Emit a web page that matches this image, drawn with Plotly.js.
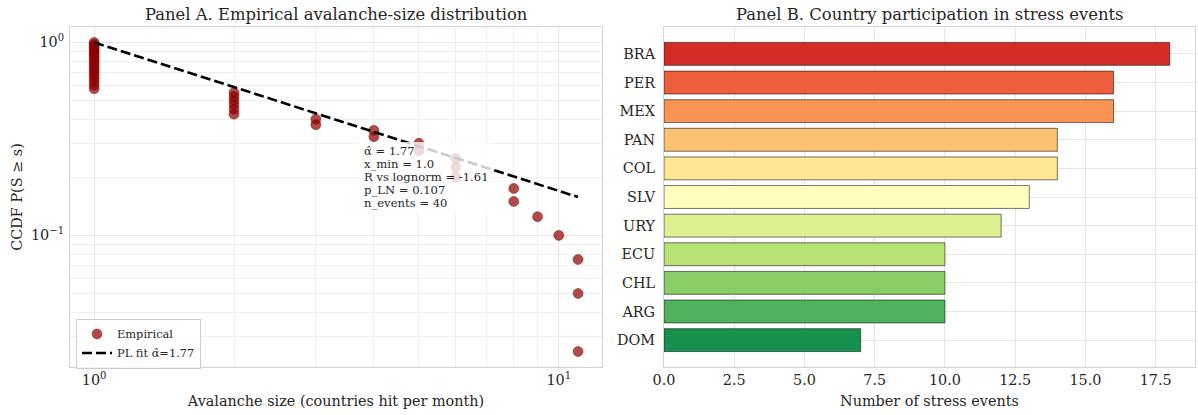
<!DOCTYPE html>
<html>
<head>
<meta charset="utf-8">
<script src="https://cdn.plot.ly/plotly-3.0.1.min.js"></script>
<style>html,body{margin:0;padding:0;background:#fff;}#chart{width:1198px;height:415px;}</style>
</head>
<body>
<div id="chart"></div>
<script>
// ---- Panel A data: empirical CCDF of avalanche sizes ----
const avalancheSize = [1,1,1,1,1,1,1,1,1,1,1,1,1,1,1,1,1,1,
                       2,2,2,2,2,2, 3,3, 4,4, 5,5, 6,6,6, 8,8, 9, 10, 11,11,11];
const ccdfValue = [1.000,0.975,0.950,0.925,0.900,0.875,0.850,0.825,0.800,0.775,0.750,0.725,0.700,0.675,0.650,0.625,0.600,0.575,
                   0.550,0.525,0.500,0.475,0.450,0.425, 0.400,0.375, 0.350,0.325, 0.300,0.275, 0.250,0.225,0.200, 0.175,0.150, 0.125, 0.100, 0.075,0.050,0.025];
const fitX = [1, 11];
const fitY = [1.0, 0.158];
const fitStats = ["α̂ = 1.77", "x_min = 1.0", "R vs lognorm = -1.61", "p_LN = 0.107", "n_events = 40"];

// ---- Panel B data: stress-event counts per country ----
const countries = ["BRA","PER","MEX","PAN","COL","SLV","URY","ECU","CHL","ARG","DOM"];
const stressEvents = [18, 16, 16, 14, 14, 13, 12, 10, 10, 10, 7];
const barColors = ["#d42d27","#ec5e3c","#f99455","#fdc272","#fee695","#ffffbf","#ddf191","#b8e176","#89cd66","#4fb25c","#17924e"];

const F = "DejaVu Serif";
const W = 1198, H = 415;
const px = v => v / W, py = v => 1 - v / H;

const gridC = "#e5e5e5", minorC = "#efefef", frameC = "#d3d3d3";

const traces = [
  {
    x: avalancheSize, y: ccdfValue, type: "scatter", mode: "markers", name: "Empirical",
    marker: {color: "rgba(139,0,0,0.7)", size: 10, line: {color: "rgba(139,0,0,0.75)", width: 0.6}},
    xaxis: "x", yaxis: "y", hoverinfo: "skip"
  },
  {
    x: fitX, y: fitY, type: "scatter", mode: "lines", name: "PL fit α̂=1.77",
    line: {color: "#000", width: 2.6, dash: "10px,4px"},
    xaxis: "x", yaxis: "y", hoverinfo: "skip"
  },
  {
    x: stressEvents, y: countries, type: "bar", orientation: "h", showlegend: false,
    width: 0.8,
    marker: {color: barColors, line: {color: "rgba(0,0,0,0.6)", width: 0.9}},
    xaxis: "x2", yaxis: "y2", hoverinfo: "skip"
  }
];

const tickFont = {family: F, size: 14.4, color: "#262626"};
const titleFont = {family: F, size: 14.4, color: "#262626"};

const statLineY = [150.5, 163.5, 177, 190, 203.5];
const statAnn = fitStats.map((t, i) => ({
  text: t, x: px(362), y: py(statLineY[i]), xref: "paper", yref: "paper",
  xanchor: "left", yanchor: "middle", align: "left", showarrow: false,
  font: {family: F, size: 11.6, color: "#262626"}
}));

const layout = {
  width: W, height: H,
  margin: {l: 0, r: 0, t: 0, b: 0},
  paper_bgcolor: "#fff", plot_bgcolor: "#fff",
  showlegend: true,
  legend: {
    x: px(76), y: py(318.5), xanchor: "left", yanchor: "top",
    bgcolor: "rgba(255,255,255,0.8)", bordercolor: "#cccccc", borderwidth: 1,
    font: {family: F, size: 11.4, color: "#262626"}, tracegroupgap: 0
  },
  xaxis: {
    type: "log", domain: [px(70), px(602)], range: [-0.052, 1.093], anchor: "y",
    tickmode: "array", tickvals: [1, 10], ticktext: ["10<sup>0</sup>", "10<sup>1</sup>"],
    tickfont: tickFont, ticks: "", showgrid: true, gridcolor: gridC, gridwidth: 1,
    minor: {tickmode: "array", tickvals: [2,3,4,5,6,7,8,9], showgrid: true, gridcolor: minorC, gridwidth: 1, ticks: ""},
    showline: true, mirror: true, linecolor: frameC, linewidth: 1, zeroline: false,
    title: {text: "Avalanche size (countries hit per month)", font: titleFont, standoff: 8}
  },
  yaxis: {
    type: "log", domain: [py(367), py(27)], range: [-1.682, 0.080], anchor: "x",
    tickmode: "array", tickvals: [0.1, 1], ticktext: ["10<sup>−1</sup>", "10<sup>0</sup>"],
    tickfont: tickFont, ticks: "", showgrid: true, gridcolor: gridC, gridwidth: 1,
    minor: {tickmode: "array", tickvals: [0.02,0.03,0.04,0.05,0.06,0.07,0.08,0.09,0.2,0.3,0.4,0.5,0.6,0.7,0.8,0.9], showgrid: true, gridcolor: minorC, gridwidth: 1, ticks: ""},
    showline: true, mirror: true, linecolor: frameC, linewidth: 1, zeroline: false,
    ticklabelstandoff: 2,
    title: {text: "CCDF P(S ≥ s)", font: titleFont, standoff: 4}
  },
  xaxis2: {
    domain: [px(664), px(1195)], range: [0, 18.9], anchor: "y2",
    tickmode: "array", tickvals: [0, 2.5, 5, 7.5, 10, 12.5, 15, 17.5],
    ticktext: ["0.0","2.5","5.0","7.5","10.0","12.5","15.0","17.5"],
    tickfont: tickFont, ticks: "", showgrid: true, gridcolor: gridC, gridwidth: 1,
    showline: true, mirror: true, linecolor: frameC, linewidth: 1, zeroline: false,
    title: {text: "Number of stress events", font: titleFont, standoff: 8}
  },
  yaxis2: {
    domain: [py(367), py(27)], range: [10.94, -0.94], anchor: "x2", type: "category",
    tickfont: tickFont, ticks: "", showgrid: true, gridcolor: gridC, gridwidth: 1,
    showline: true, mirror: true, linecolor: frameC, linewidth: 1, zeroline: false,
    ticklabelstandoff: 5
  },
  shapes: [
    {type: "rect", xref: "paper", yref: "paper", x0: px(358), x1: px(491), y0: py(213), y1: py(142),
     fillcolor: "rgba(255,255,255,0.8)", line: {width: 0}, layer: "above"}
  ],
  annotations: [
    {text: "Panel A. Empirical avalanche-size distribution", x: px(336), y: py(14), xref: "paper", yref: "paper",
     xanchor: "center", yanchor: "middle", showarrow: false, font: {family: F, size: 16.4, color: "#262626"}},
    {text: "Panel B. Country participation in stress events", x: px(929.5), y: py(14), xref: "paper", yref: "paper",
     xanchor: "center", yanchor: "middle", showarrow: false, font: {family: F, size: 16.4, color: "#262626"}}
  ].concat(statAnn)
};

Plotly.newPlot("chart", traces, layout, {staticPlot: true, displayModeBar: false});
</script>
</body>
</html>
